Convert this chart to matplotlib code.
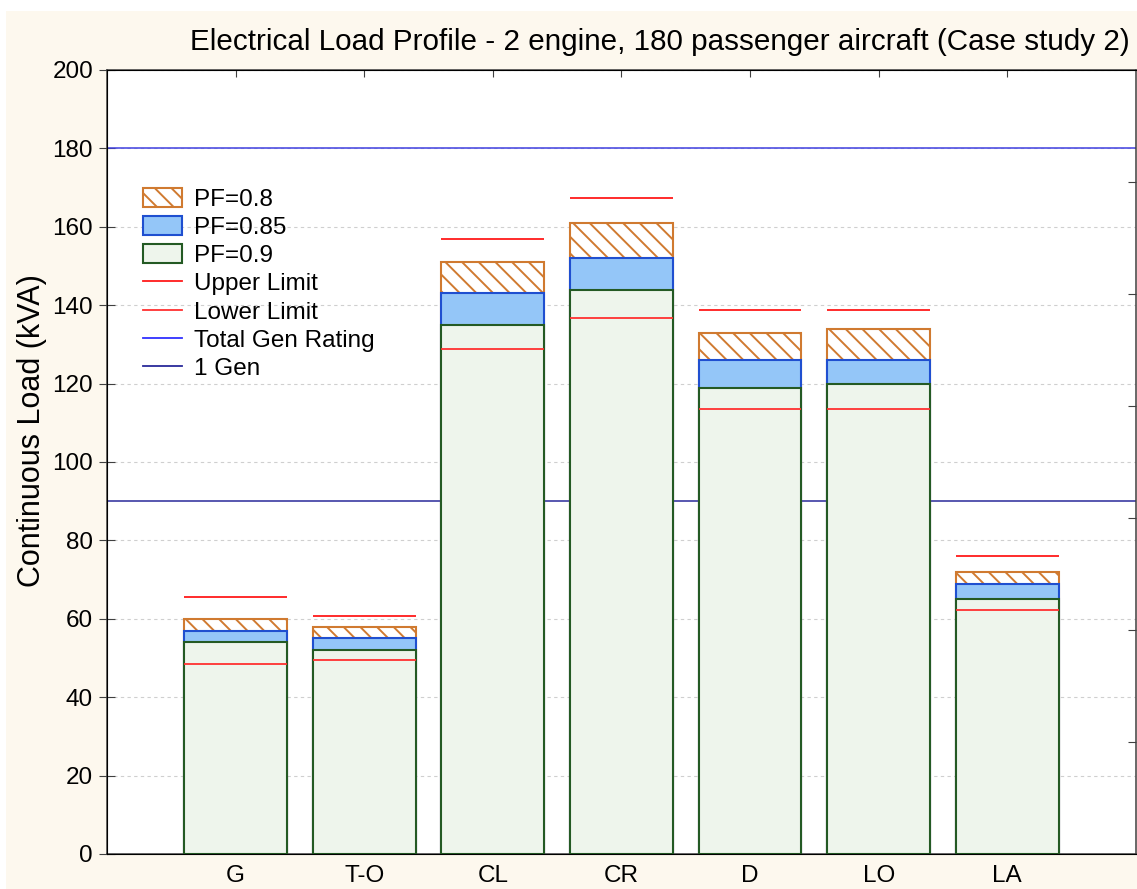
import matplotlib
matplotlib.use('Agg')
import matplotlib.pyplot as plt
from matplotlib.patches import Rectangle, Patch
from matplotlib.lines import Line2D

plt.rcParams['font.family'] = ['Liberation Sans', 'DejaVu Sans']
plt.rcParams['hatch.linewidth'] = 1.4

phases = ['G', 'T-O', 'CL', 'CR', 'D', 'LO', 'LA']
pf_08 = [60, 58, 151, 161, 133, 134, 72]
pf_085 = [57, 55, 143, 152, 126, 126, 69]
pf_09 = [54, 52, 135, 144, 119, 120, 65]
upper_limit = [65.5, 60.8, 157, 167.3, 138.8, 138.8, 76]
lower_limit = [48.5, 49.5, 128.8, 136.8, 113.5, 113.5, 62.2]
total_gen = 180
one_gen = 90

fig = plt.figure(figsize=(11.37, 8.89), dpi=100)
fig.patch.set_facecolor('white')
# cream border around the plot like the original screenshot
fig.patches.append(Rectangle((6 / 1137, 0), 1, 878 / 889, transform=fig.transFigure,
                             facecolor='#fdf8ee', edgecolor='none', zorder=-10))

ax = fig.add_axes([107 / 1137, 35 / 889, 1 - 107 / 1137 - 0.001, 784 / 889])
ax.set_facecolor('white')

x = list(range(1, len(phases) + 1))
w = 0.8
ax.bar(x, pf_08, w, facecolor='white', edgecolor='#d07a30', hatch='\\\\', linewidth=1.5, zorder=2)
ax.bar(x, pf_085, w, facecolor='#94c6f8', edgecolor='#1f4fd0', linewidth=1.5, zorder=3)
ax.bar(x, pf_09, w, facecolor='#eef5ec', edgecolor='#245a24', linewidth=1.5, zorder=4)

ax.hlines(upper_limit, [p - w / 2 for p in x], [p + w / 2 for p in x], color='#ff1a1a', lw=1.3, zorder=5)
ax.hlines(lower_limit, [p - w / 2 for p in x], [p + w / 2 for p in x], color='#ff3030', lw=1.3, zorder=5)
ax.axhline(total_gen, color='#4040e0', lw=1.1, zorder=1)
ax.axhline(one_gen, color='#2a2a9a', lw=1.1, zorder=1)

ax.set_xlim(0, 8)
ax.set_ylim(0, 200)
ax.set_yticks(range(0, 201, 20))
ax.set_xticks(x)
ax.set_xticklabels(phases)
ax.yaxis.grid(True, linestyle=(0, (3, 3)), color='#cfcfcf', lw=0.8, zorder=0)
ax.set_axisbelow(True)
ax.tick_params(axis='y', direction='inout', length=12, labelsize=17.5, pad=4, color='#404040')
ax.tick_params(axis='x', direction='in', length=5, labelsize=17.5, pad=8, top=True, color='#404040')
for s in ax.spines.values():
    s.set_color('#404040')
    s.set_linewidth(1.1)

ax2 = ax.twinx()
ax2.set_ylim(0, 7)
ax2.set_yticks(range(1, 7))
ax2.set_yticklabels([])
ax2.tick_params(axis='y', direction='in', length=6, color='#404040')
ax2.spines['right'].set_visible(False)

fig.text(32 / 1137, 1 - 431 / 889, 'Continuous Load (kVA)', rotation=90,
         ha='center', va='center', fontsize=22)
fig.text(1130 / 1137, 1 - 42 / 889, 'Electrical Load Profile - 2 engine, 180 passenger aircraft (Case study 2)',
         ha='right', va='center', fontsize=21.3)

handles = [
    Patch(facecolor='white', edgecolor='#d07a30', hatch='\\\\', linewidth=1.5),
    Patch(facecolor='#94c6f8', edgecolor='#1f4fd0', linewidth=1.5),
    Patch(facecolor='#eef5ec', edgecolor='#245a24', linewidth=1.5),
    Line2D([], [], color='#ff1a1a', lw=1.3),
    Line2D([], [], color='#ff3030', lw=1.3),
    Line2D([], [], color='#3030ff', lw=1.3),
    Line2D([], [], color='#2a2a9a', lw=1.3),
]
labels = ['PF=0.8', 'PF=0.85', 'PF=0.9', 'Upper Limit', 'Lower Limit', 'Total Gen Rating', '1 Gen']
ax.legend(handles, labels, loc='upper left', bbox_to_anchor=(0.035, 0.85), frameon=False,
          fontsize=17.5, handlelength=1.6, handleheight=0.85, handletextpad=0.5,
          labelspacing=0.21, borderpad=0, borderaxespad=0)

fig.savefig('out.png', dpi=100)
